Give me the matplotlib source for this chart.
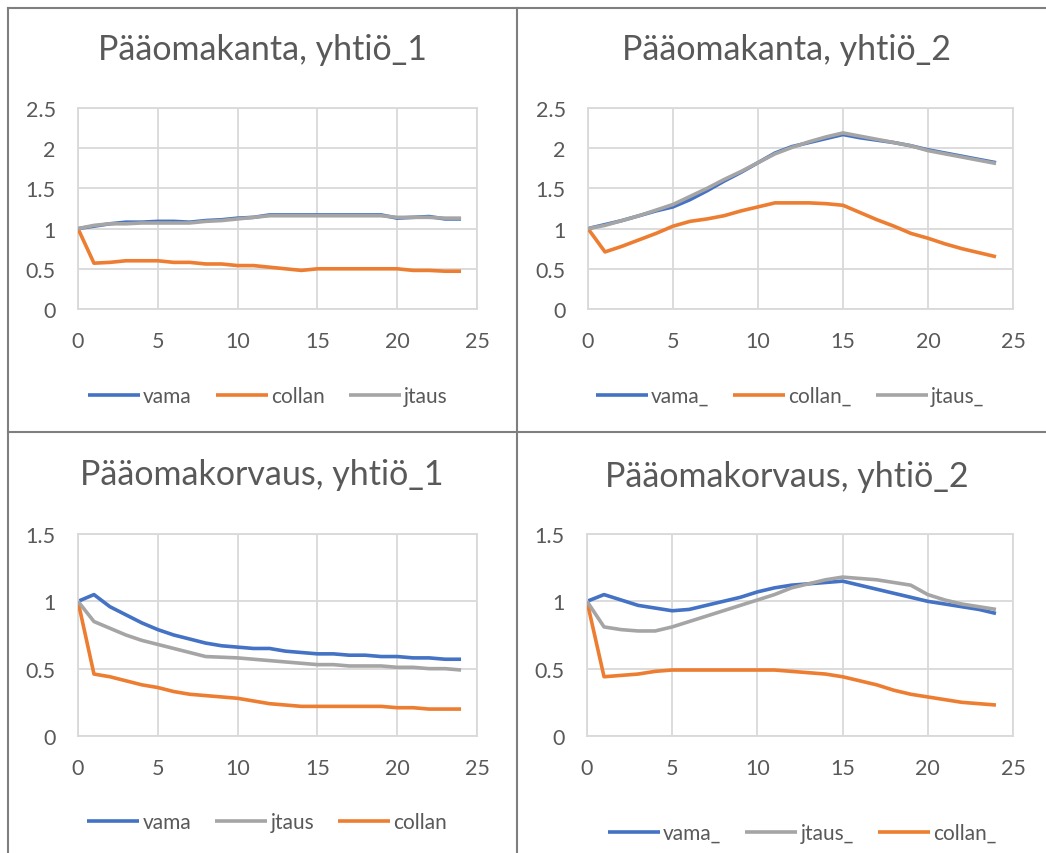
import matplotlib
matplotlib.use("Agg")
import matplotlib.pyplot as plt
from matplotlib.lines import Line2D

plt.rcParams['font.family'] = ['Lato', 'DejaVu Sans']

x = list(range(25))

# Pääomakanta, yhtiö_1
vama_1 = [1.0, 1.03, 1.06, 1.08, 1.08, 1.09, 1.09, 1.08, 1.10, 1.11, 1.13, 1.14, 1.17, 1.17, 1.17,
          1.17, 1.17, 1.17, 1.17, 1.17, 1.13, 1.14, 1.15, 1.12, 1.12]
jtaus_1 = [1.0, 1.04, 1.06, 1.06, 1.07, 1.07, 1.07, 1.07, 1.09, 1.10, 1.12, 1.14, 1.16, 1.16, 1.16,
           1.16, 1.16, 1.16, 1.16, 1.16, 1.14, 1.14, 1.14, 1.13, 1.13]
collan_1 = [1.0, 0.57, 0.58, 0.60, 0.60, 0.60, 0.58, 0.58, 0.56, 0.56, 0.54, 0.54, 0.52, 0.50, 0.48,
            0.50, 0.50, 0.50, 0.50, 0.50, 0.50, 0.48, 0.48, 0.47, 0.47]

# Pääomakanta, yhtiö_2
vama_2 = [1.0, 1.05, 1.10, 1.16, 1.22, 1.27, 1.36, 1.47, 1.59, 1.70, 1.82, 1.94, 2.02, 2.07, 2.12,
          2.17, 2.13, 2.10, 2.07, 2.03, 1.98, 1.94, 1.90, 1.86, 1.82]
jtaus_2 = [1.0, 1.04, 1.10, 1.16, 1.23, 1.30, 1.40, 1.50, 1.61, 1.71, 1.82, 1.93, 2.01, 2.08, 2.14,
           2.19, 2.15, 2.11, 2.07, 2.03, 1.97, 1.93, 1.89, 1.85, 1.81]
collan_2 = [1.0, 0.71, 0.78, 0.86, 0.94, 1.03, 1.09, 1.12, 1.16, 1.22, 1.27, 1.32, 1.32, 1.32, 1.31,
            1.29, 1.20, 1.11, 1.03, 0.94, 0.88, 0.81, 0.75, 0.70, 0.65]

# Pääomakorvaus, yhtiö_1
vama_3 = [1.0, 1.05, 0.96, 0.90, 0.84, 0.79, 0.75, 0.72, 0.69, 0.67, 0.66, 0.65, 0.65, 0.63, 0.62,
          0.61, 0.61, 0.60, 0.60, 0.59, 0.59, 0.58, 0.58, 0.57, 0.57]
jtaus_3 = [1.0, 0.85, 0.80, 0.75, 0.71, 0.68, 0.65, 0.62, 0.59, 0.585, 0.58, 0.57, 0.56, 0.55, 0.54,
           0.53, 0.53, 0.52, 0.52, 0.52, 0.51, 0.51, 0.50, 0.50, 0.49]
collan_3 = [1.0, 0.46, 0.44, 0.41, 0.38, 0.36, 0.33, 0.31, 0.30, 0.29, 0.28, 0.26, 0.24, 0.23, 0.22,
            0.22, 0.22, 0.22, 0.22, 0.22, 0.21, 0.21, 0.20, 0.20, 0.20]

# Pääomakorvaus, yhtiö_2
vama_4 = [1.0, 1.05, 1.01, 0.97, 0.95, 0.93, 0.94, 0.97, 1.00, 1.03, 1.07, 1.10, 1.12, 1.13, 1.14,
          1.15, 1.12, 1.09, 1.06, 1.03, 1.00, 0.98, 0.96, 0.94, 0.91]
jtaus_4 = [1.0, 0.81, 0.79, 0.78, 0.78, 0.81, 0.85, 0.89, 0.93, 0.97, 1.01, 1.05, 1.10, 1.13, 1.16,
           1.18, 1.17, 1.16, 1.14, 1.12, 1.05, 1.01, 0.98, 0.96, 0.94]
collan_4 = [1.0, 0.44, 0.45, 0.46, 0.48, 0.49, 0.49, 0.49, 0.49, 0.49, 0.49, 0.49, 0.48, 0.47, 0.46,
            0.44, 0.41, 0.38, 0.34, 0.31, 0.29, 0.27, 0.25, 0.24, 0.23]

titles = ["Pääomakanta, yhtiö_1", "Pääomakanta, yhtiö_2",
          "Pääomakorvaus, yhtiö_1", "Pääomakorvaus, yhtiö_2"]
xticks = [0, 5, 10, 15, 20, 25]
yticks_top = [0, 0.5, 1, 1.5, 2, 2.5]
ytick_labels_top = ["0", "0.5", "1", "1.5", "2", "2.5"]
yticks_bot = [0, 0.5, 1, 1.5]
ytick_labels_bot = ["0", "0.5", "1", "1.5"]

BLUE = "#4472C4"
ORANGE = "#ED7D31"
GRAY = "#A5A5A5"
TXT = "#595959"
GRID = "#D9D9D9"

W, H = 1046, 854
fig = plt.figure(figsize=(W / 100, H / 100), dpi=100)

def px_axes(l, t, r, b):
    return fig.add_axes([l / W, 1 - b / H, (r - l) / W, (b - t) / H])

axes = [
    px_axes(78, 109, 477, 310),
    px_axes(588, 109, 1013, 310),
    px_axes(78, 535, 477, 737),
    px_axes(587, 535, 1013, 737),
]

panels = [
    [("vama", vama_1, BLUE), ("collan", collan_1, ORANGE), ("jtaus", jtaus_1, GRAY)],
    [("vama_", vama_2, BLUE), ("collan_", collan_2, ORANGE), ("jtaus_", jtaus_2, GRAY)],
    [("vama", vama_3, BLUE), ("jtaus", jtaus_3, GRAY), ("collan", collan_3, ORANGE)],
    [("vama_", vama_4, BLUE), ("jtaus_", jtaus_4, GRAY), ("collan_", collan_4, ORANGE)],
]
draw_order = {BLUE: 2, ORANGE: 3, GRAY: 4}
legend_pos = [(0.476, -0.433), (0.475, -0.433), (0.474, -0.426), (0.505, -0.48)]
title_pos = [(0.461, 1.294), (0.468, 1.294), (0.461, 1.297), (0.469, 1.287)]

for i, ax in enumerate(axes):
    for name, vals, col in panels[i]:
        ax.plot(x, vals, color=col, lw=2.6, label=name, zorder=draw_order[col],
                solid_capstyle='butt')
    ax.set_xlim(0, 25)
    if i < 2:
        ax.set_ylim(0, 2.5)
        ax.set_yticks(yticks_top)
        ax.set_yticklabels(ytick_labels_top)
    else:
        ax.set_ylim(0, 1.5)
        ax.set_yticks(yticks_bot)
        ax.set_yticklabels(ytick_labels_bot)
    ax.set_xticks(xticks)
    ax.grid(True, color=GRID, lw=1.3, zorder=0)
    ax.set_axisbelow(True)
    for s in ax.spines.values():
        s.set_color(GRID)
        s.set_linewidth(1.3)
    ax.tick_params(length=0, labelsize=15.5, labelcolor=TXT)
    ax.tick_params(axis='y', pad=16)
    ax.tick_params(axis='x', pad=16)
    ax.text(title_pos[i][0], title_pos[i][1], titles[i], transform=ax.transAxes,
            ha='center', va='center', fontsize=24.5, color=TXT)
    ax.legend(loc='center', bbox_to_anchor=legend_pos[i], ncol=3, frameon=False,
              fontsize=15, handlelength=2.5, handletextpad=0.15, columnspacing=1.15,
              labelcolor=TXT)

# panel borders
bc = "#7F7F7F"
fig.add_artist(Line2D([8 / W, 8 / W], [0, 1 - 9 / H], color=bc, lw=1.5))
fig.add_artist(Line2D([8 / W, 1], [1 - 9 / H, 1 - 9 / H], color=bc, lw=1.5))
fig.add_artist(Line2D([517 / W, 517 / W], [0, 1 - 9 / H], color=bc, lw=1.5))
fig.add_artist(Line2D([8 / W, 1], [1 - 433 / H, 1 - 433 / H], color=bc, lw=1.5))

fig.savefig("out.png", dpi=100, facecolor="white")
